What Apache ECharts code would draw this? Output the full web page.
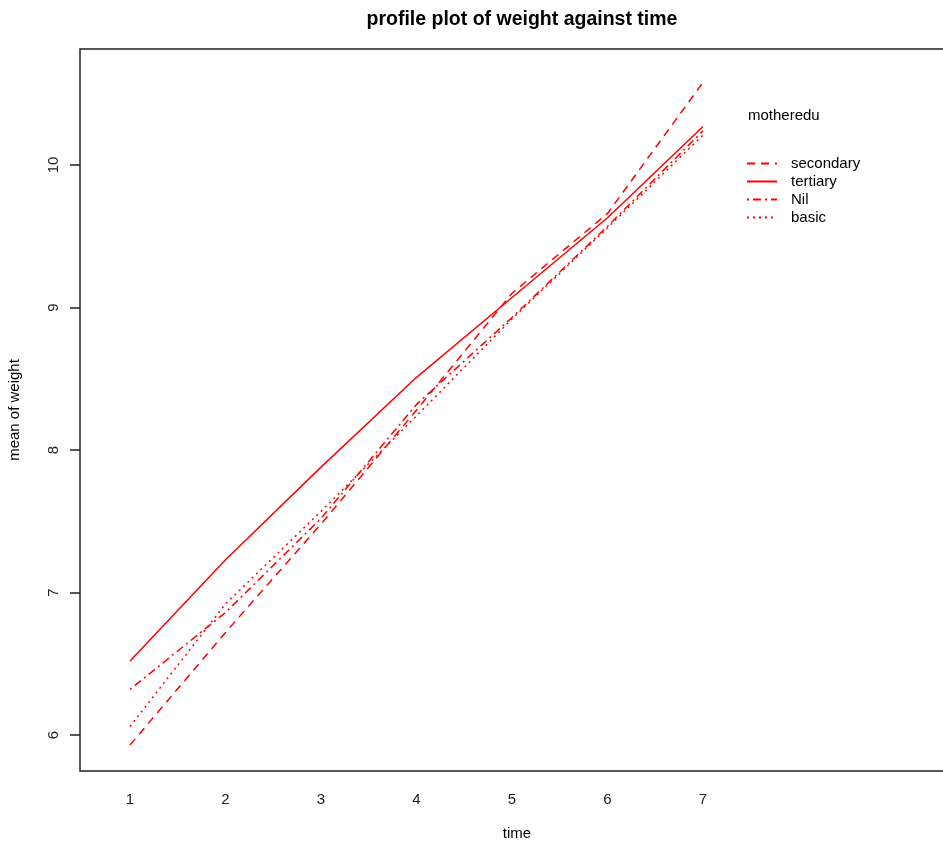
<!DOCTYPE html>
<html>
<head>
<meta charset="utf-8">
<script src="https://cdn.jsdelivr.net/npm/echarts@6/dist/echarts.min.js"></script>
<style>
html,body{margin:0;padding:0;background:#fff}
#Chart{width:943px;height:842px}
</style>
</head>
<body>
<div id="Chart"></div>
<script>
// data
var times=[1,2,3,4,5,6,7]
var secondary=[5.93,6.72,7.48,8.28,9.10,9.66,10.58]
var tertiary=[6.52,7.23,7.88,8.51,9.07,9.63,10.27]
var nil=[6.32,6.86,7.52,8.32,8.93,9.57,10.24]
var basic=[6.06,6.92,7.57,8.24,8.92,9.56,10.21]
var xTicks=[1,2,3,4,5,6,7]
var yTicks=[6,7,8,9,10]

var font='"Liberation Sans", Arial, sans-serif'

function pairs(vals){
    var out=[]
    for(var i=0;i<times.length;i++) out.push([times[i],vals[i]])
    return out
}

function makeSeries(name,vals,dash){
    return {
        name:name,
        type:'line',
        data:pairs(vals),
        symbol:'none',
        silent:true,
        color:'#ff0000',
        itemStyle:{color:'#ff0000'},
        lineStyle:{color:'#ff0000',width:1.5,type:dash}
    }
}

function drawChar(){
    var myChart=echarts.init(document.getElementById('Chart'))
    var option={
        animation:false,
        title:[{
            text:'profile plot of weight against time',
            left:517,top:5,textAlign:'center',
            textStyle:{fontFamily:font,fontSize:19.5,fontWeight:'bold',color:'#000'}
        },{
            text:'motheredu',
            left:743,top:103,
            textStyle:{fontFamily:font,fontSize:15,fontWeight:'normal',color:'#000'}
        }],
        legend:{
            orient:'vertical',
            left:741,top:151,
            itemWidth:30,itemHeight:10,itemGap:3,
            selectedMode:false,
            itemStyle:{opacity:0},
            textStyle:{fontFamily:font,fontSize:15,color:'#000',padding:[0,0,0,9]},
            data:['secondary','tertiary','Nil','basic']
        },
        grid:{
            left:80,top:49,width:874,height:722,
            outerBoundsMode:'none',containLabel:false,
            show:true,borderColor:'#222',borderWidth:1.5,backgroundColor:'transparent'
        },
        xAxis:{
            type:'value',min:0.476,max:9.628,
            name:'time',nameLocation:'middle',nameGap:55,
            nameTextStyle:{fontFamily:font,fontSize:15,color:'#000'},
            axisLine:{show:false},
            axisTick:{show:false},
            splitLine:{show:false},
            axisLabel:{customValues:xTicks,margin:21,fontFamily:font,fontSize:15,color:'#222'}
        },
        yAxis:{
            type:'value',min:5.7474,max:10.814,
            name:'mean of weight',nameLocation:'middle',nameGap:58,
            nameTextStyle:{fontFamily:font,fontSize:15,color:'#000'},
            axisLine:{show:false},
            axisTick:{show:true,customValues:yTicks,length:10,lineStyle:{color:'#222',width:1.5}},
            splitLine:{show:false},
            axisLabel:{customValues:yTicks,rotate:90,margin:19,fontFamily:font,fontSize:15,color:'#222'}
        },
        series:[
            makeSeries('secondary',secondary,[8,6]),
            makeSeries('tertiary',tertiary,'solid'),
            makeSeries('Nil',nil,[2,4,8,4]),
            makeSeries('basic',basic,[2,4])
        ]
    }
    myChart.setOption(option)
}

drawChar()
</script>
</body>
</html>
